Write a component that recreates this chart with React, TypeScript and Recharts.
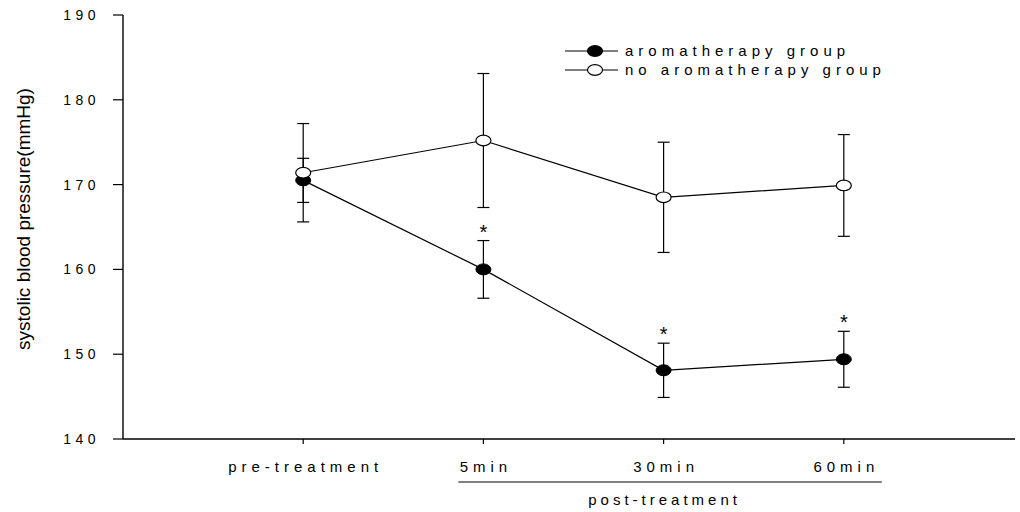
import React from 'react';
import { LineChart, Line, XAxis, YAxis, ErrorBar, Legend } from 'recharts';

// Systolic blood pressure (mmHg), mean with error, per measurement time
const categories = ['pre-treatment', '5min', '30min', '60min'];
const timePoints = [1, 2, 3, 4];
const aromaMean = [170.5, 160.0, 148.1, 149.4];
const aromaErr = [2.6, 3.4, 3.2, 3.3];
const controlMean = [171.4, 175.2, 168.5, 169.9];
const controlErr = [5.8, 7.9, 6.5, 6.0];
const significant = [false, true, true, true];
const yTicks = [140, 150, 160, 170, 180, 190];
const seriesNames = { aroma: 'aromatherapy group', control: 'no aromatherapy group' };

const data = timePoints.map((t, i) => ({
  t,
  aroma: aromaMean[i],
  aromaErr: aromaErr[i],
  control: controlMean[i],
  controlErr: controlErr[i],
  star: significant[i] ? aromaMean[i] + aromaErr[i] : null,
}));

const FONT = "Arial, 'Liberation Sans', sans-serif";
const X_MAX = 4.95;

const FilledDot = (p: any) =>
  p.cx == null ? null : (
    <ellipse key={`f${p.index}`} cx={p.cx} cy={p.cy} rx={7.5} ry={5.5} fill="#000" stroke="#000" strokeWidth={1} />
  );
const OpenDot = (p: any) =>
  p.cx == null ? null : (
    <ellipse key={`o${p.index}`} cx={p.cx} cy={p.cy} rx={7.5} ry={5.3} fill="#fff" stroke="#000" strokeWidth={1.2} />
  );

const XTick = (p: any) => {
  const ls = 5;
  return (
    <text x={p.x + ls / 2} y={p.y} dy="0.71em" textAnchor="middle" fill="#000" fontSize={15}
      fontFamily={FONT} letterSpacing={ls}>
      {categories[p.payload.value - 1]}
    </text>
  );
};

const YTick = (p: any) => (
  <text x={p.x} y={p.y} dy="0.355em" textAnchor="end" fill="#000" fontSize={14}
    fontFamily={FONT} letterSpacing={4.5}>
    {p.payload.value}
  </text>
);

const StarLabel = (p: any) => {
  if (p.value == null || p.x == null) return null;
  return (
    <text key={`s${p.index}`} x={p.x} y={p.y - 2} textAnchor="middle" fill="#000" fontSize={20} fontFamily={FONT}>
      *
    </text>
  );
};

// Bracket under the post-treatment time points
const PostTreatmentLabel = (p: any) => {
  const vb = p.viewBox || {};
  const px = (t: number) => vb.x + (t / X_MAX) * vb.width;
  return (
    <g>
      <line x1={px(2) - 25} x2={px(4) + 38} y1={482} y2={482} stroke="#000" strokeWidth={1} />
      <text x={px(3) + 1} y={505} textAnchor="middle" fill="#000" fontSize={15} fontFamily={FONT} letterSpacing={4}>
        post-treatment
      </text>
    </g>
  );
};

const YLabel = (p: any) => {
  const vb = p.viewBox || {};
  const cx = 23;
  const cy = vb.y + vb.height / 2 - 8;
  return (
    <text x={cx} y={cy} transform={`rotate(-90 ${cx} ${cy})`} textAnchor="middle" dominantBaseline="central"
      fill="#000" fontSize={19} fontFamily={FONT}>
      systolic blood pressure(mmHg)
    </text>
  );
};

const LegendContent = () => {
  const rows = [
    { key: 'aroma', filled: true, label: seriesNames.aroma },
    { key: 'control', filled: false, label: seriesNames.control },
  ];
  return (
    <svg width={340} height={40} style={{ display: 'block' }}>
      {rows.map((r, i) => {
        const y = 10 + i * 19;
        return (
          <g key={r.key}>
            <line x1={5} x2={58} y1={y} y2={y} stroke="#000" strokeWidth={1.2} />
            <ellipse cx={35} cy={y} rx={7.5} ry={5.3} fill={r.filled ? '#000' : '#fff'} stroke="#000" strokeWidth={1.2} />
            <text x={65} y={y} dy="0.355em" fill="#000" fontSize={15} fontFamily={FONT} letterSpacing={5}>
              {r.label}
            </text>
          </g>
        );
      })}
    </svg>
  );
};

export default function App() {
  return (
    <div style={{ position: 'absolute', left: 0, top: 0, width: 1020, height: 512, background: '#fff' }}>
      <LineChart width={1020} height={512} data={data} margin={{ top: 15, right: 5, bottom: 0, left: 0 }}>
        <XAxis
          dataKey="t"
          type="number"
          domain={[0, X_MAX]}
          ticks={timePoints}
          interval={0}
          allowDataOverflow
          tick={<XTick />}
          tickSize={5}
          tickMargin={17}
          axisLine={{ stroke: '#000', strokeWidth: 1.4 }}
          tickLine={{ stroke: '#000', strokeWidth: 1.2 }}
          height={73}
          label={<PostTreatmentLabel />}
        />
        <YAxis
          type="number"
          domain={[140, 190]}
          ticks={yTicks}
          interval={0}
          width={123}
          tick={<YTick />}
          tickSize={10}
          tickMargin={13}
          axisLine={{ stroke: '#000', strokeWidth: 1.4 }}
          tickLine={{ stroke: '#000', strokeWidth: 1.2 }}
          label={<YLabel />}
        />
        <Legend
          layout="horizontal"
          verticalAlign="middle"
          align="center"
          content={<LegendContent />}
          wrapperStyle={{ position: 'absolute', left: 560, top: 41, width: 340, height: 40 }}
        />
        <Line
          dataKey="aroma"
          name={seriesNames.aroma}
          stroke="#000"
          strokeWidth={1.2}
          dot={<FilledDot />}
          isAnimationActive={false}
        >
          <ErrorBar dataKey="aromaErr" direction="y" width={6} stroke="#000" strokeWidth={1.2} />
        </Line>
        <Line
          dataKey="control"
          name={seriesNames.control}
          stroke="#000"
          strokeWidth={1.2}
          dot={<OpenDot />}
          isAnimationActive={false}
        >
          <ErrorBar dataKey="controlErr" direction="y" width={6} stroke="#000" strokeWidth={1.2} />
        </Line>
        <Line
          dataKey="star"
          stroke="none"
          dot={false}
          activeDot={false}
          legendType="none"
          label={<StarLabel />}
          isAnimationActive={false}
        />
      </LineChart>
    </div>
  );
}
